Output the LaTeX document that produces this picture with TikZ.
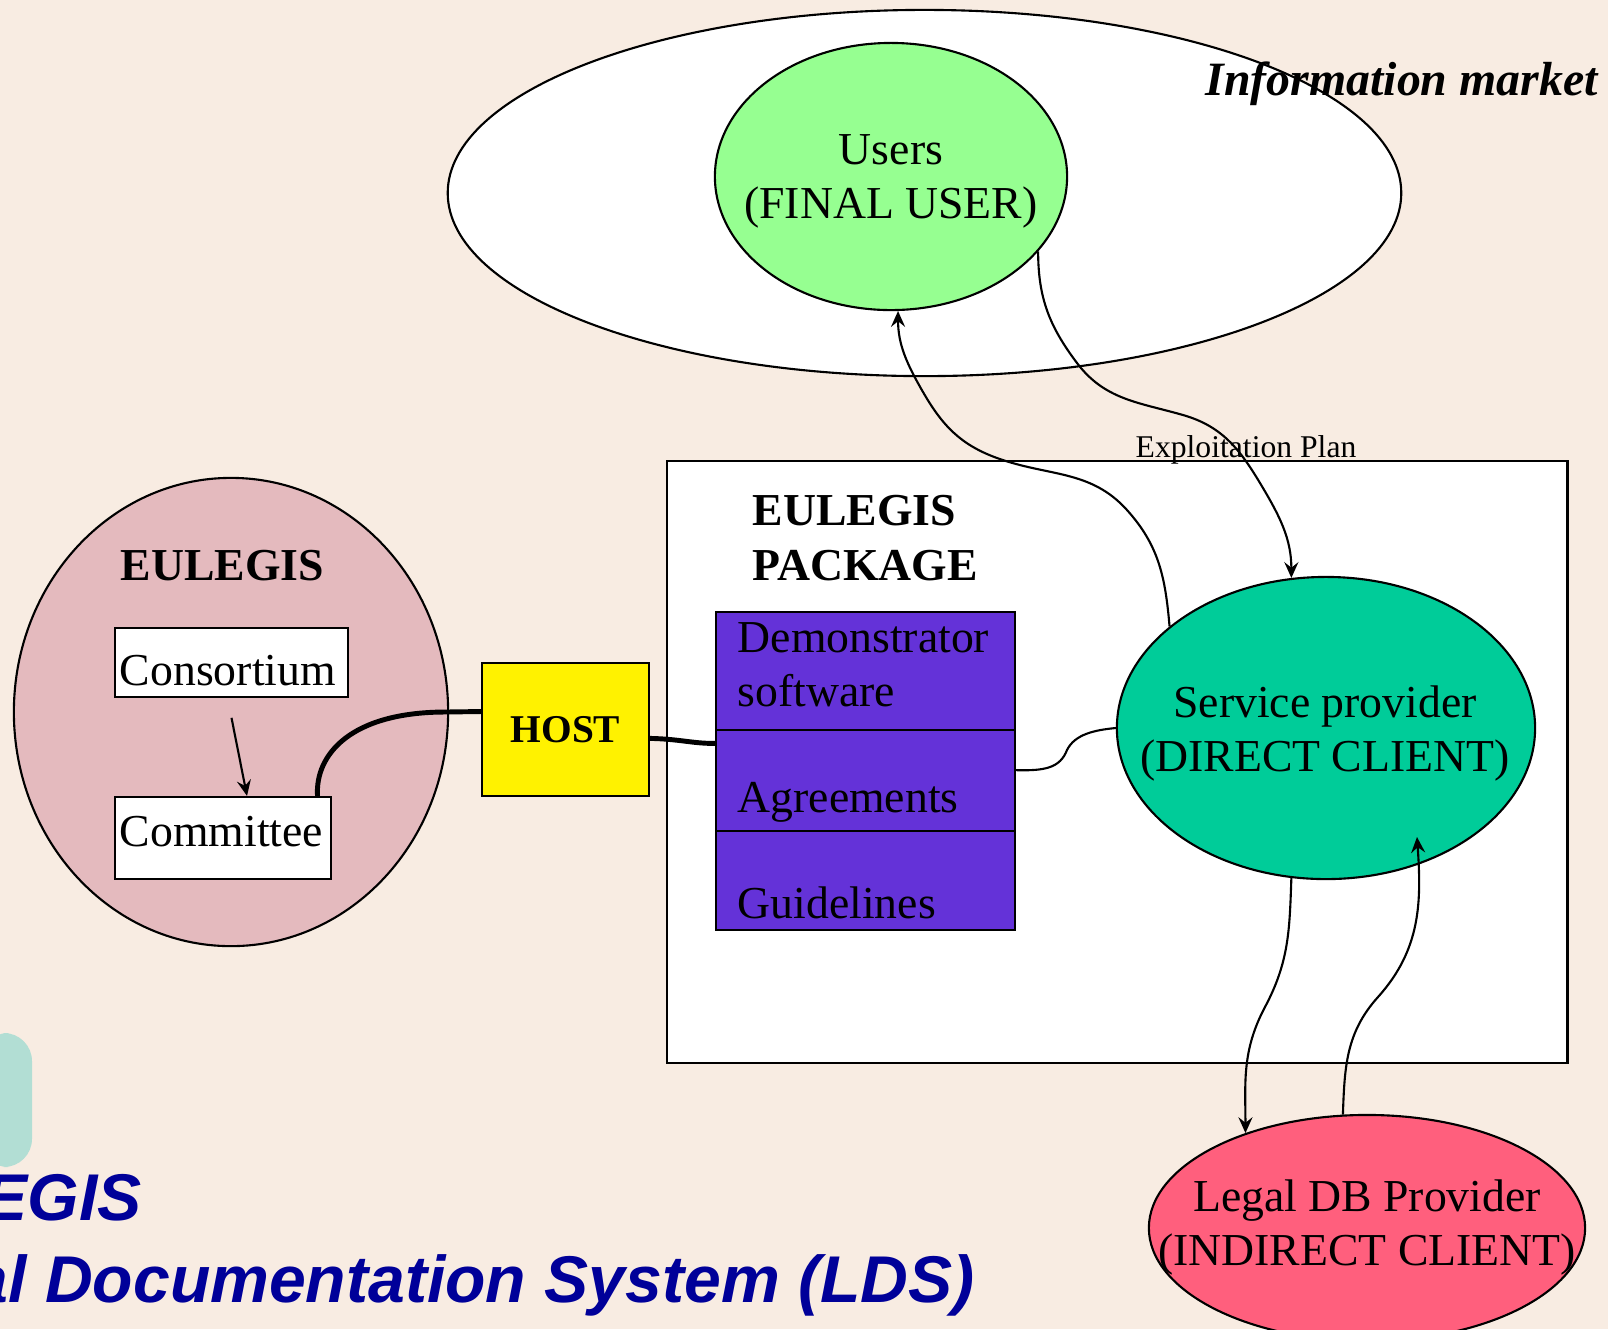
\documentclass[tikz,border=0pt]{standalone}
\usepackage{fontspec}
\setmainfont{Liberation Serif}
\newfontfamily\titlefont{Liberation Sans}
\usetikzlibrary{shapes.geometric,arrows.meta,positioning}

\definecolor{bgcream}{RGB}{248,236,226}
\definecolor{dustypink}{RGB}{228,186,190}
\definecolor{usergreen}{RGB}{150,255,145}
\definecolor{clientteal}{RGB}{0,204,153}
\definecolor{dbred}{RGB}{255,95,125}
\definecolor{pkgpurple}{RGB}{100,50,216}
\definecolor{titleblue}{RGB}{0,0,153}
\definecolor{fragteal}{RGB}{178,222,212}

\begin{document}
\begin{tikzpicture}[
   x=0.01cm, y=0.01cm,
   every node/.append style={align=center, font=\fontsize{13}{15.3}\selectfont},  % <-- 13pt labels
   bubble/.style={ellipse, draw, line width=0.6pt, inner sep=0pt},
   plainbox/.style={rectangle, draw, line width=0.6pt},
   txt/.style={inner sep=0pt},
   link/.style={line width=0.6pt, -{Stealth[length=4.5pt,width=4pt,inset=1.6pt]}},
   thickline/.style={line width=1.4pt}
]
\tikzset{stackbox/.style={plainbox, fill=pkgpurple, minimum width=2.99cm, inner sep=0pt, outer sep=0pt}}

% page
\useasboundingbox (0,0) rectangle (1608,-1329);
\fill[bgcream] (0,0) rectangle (1608,-1329);
\fill[fragteal, rounded corners=8pt] (-20,-1033) rectangle (32,-1167);

% information market
\node[bubble, fill=white, minimum width=9.53cm, minimum height=3.66cm] (market) at (924.5,-193) {};
\node[bubble, fill=usergreen, minimum width=3.52cm, minimum height=2.67cm] (users) at (891,-176.5) {};
\node[txt, anchor=base] (userstxt) at (891,-218) {Users\\(FINAL USER)};  % base = last line
\node[txt, anchor=base west, font=\fontsize{13.6}{16}\selectfont\bfseries\itshape] (markettxt)
   at (1205,-95) {Information market};

% eulegis side
\node[bubble, fill=dustypink, minimum width=4.34cm, minimum height=4.68cm] (eulegis) at (231,-712) {};
\node[txt, anchor=base west, font=\fontsize{13}{15.3}\selectfont\bfseries] (eulegistxt) at (120,-580) {EULEGIS};
\node[plainbox, fill=white, minimum width=2.33cm, minimum height=0.65cm, inner xsep=0.05cm,
      text width=2.23cm, align=left, text height=12.8pt, text depth=0pt] (consort) at (231.5,-662.5) {Consortium};
\node[plainbox, fill=white, minimum width=2.16cm, minimum height=0.82cm, inner xsep=0.05cm,
      text width=2.06cm, align=left, text height=9pt, text depth=4pt] (committee) at (223,-838) {Committee};
\node[plainbox, fill=yellow, minimum width=1.67cm, minimum height=1.33cm,
      font=\fontsize{11.2}{13}\selectfont\bfseries] (host) at (565.5,-729.5) {HOST};

% package
\node[plainbox, fill=white, line width=0.7pt, minimum width=9.00cm, minimum height=6.02cm] (package) at (1117,-762) {};
\node[txt, anchor=base west, align=left, font=\fontsize{13}{15.6}\selectfont\bfseries] (packagetxt)
   at (752,-580) {EULEGIS\\PACKAGE};
\node[stackbox, minimum height=1.18cm, anchor=north west] (demo) at (716,-612) {};
\node[stackbox, minimum height=1.01cm, below=0pt of demo] (agree) {};
\node[stackbox, minimum height=0.99cm, below=0pt of agree] (guide) {};
\node[txt, anchor=base west, align=left] (demotxt) at (737,-706) {Demonstrator\\software};
\node[txt, anchor=base west] (agreetxt) at (737,-812) {Agreements};
\node[txt, anchor=base west] (guidetxt) at (737,-918) {Guidelines};

% clients
\node[bubble, fill=clientteal, minimum width=4.18cm, minimum height=3.02cm] (service) at (1326,-728) {};
\node[txt, anchor=base] (servicetxt) at (1325,-771) {Service provider\\(DIRECT CLIENT)};
\node[bubble, fill=dbred, minimum width=4.36cm, minimum height=2.26cm] (legal) at (1367,-1228) {};
\node[txt, anchor=base] (legaltxt) at (1367,-1265) {Legal DB Provider\\(INDIRECT CLIENT)};
\node[txt, anchor=base west, font=\fontsize{9}{11}\selectfont] (plantxt) at (1135,-457) {Exploitation Plan};
\coordinate (backin) at ([shift={(91,-109)}]service.center);

% connectors
\draw[link] ([yshift=-0.2cm]consort.south) -- ([xshift=0.24cm]committee.north);
\draw[thickline] (committee.24) .. controls (315,-755) and (350,-712) .. (446,-712) -- (host.168);
\draw[thickline] (host.-6) .. controls (680,-739) and (695,-744) .. (agree.166);
\draw[line width=0.6pt] (agree.4) .. controls (1045,-771) and (1060,-768) .. (1067,-750)
   .. controls (1075,-734) and (1095,-730) .. (service.west);
\draw[link] (service.147) to[out=95,in=-48] (1127,-510) to[out=132,in=-20] (997,-458)
   to[out=160,in=-60] (923,-392) to[out=120,in=-90] (users.-87);
\draw[link] (users.-27) to[out=-90,in=127] (1077,-363) to[out=-53,in=164] (1183,-415)
   to[out=-16,in=121] (1260,-483) to[out=-59,in=90] (service.103);
\draw[link] (service.-103) to[out=-92,in=62] (1265,-1007) to[out=-118,in=90] (legal.142);
\draw[link] (legal.102) to[out=88,in=-132] (1378,-997) to[out=48,in=-86] (backin);

% slide title, cut at the left edge as in the slide
\node[txt, anchor=base west, text=titleblue, font=\titlefont\fontsize{18.8}{22}\selectfont\bfseries\itshape]
   (titleA) at (-17,-1220) {EGIS};
\node[txt, anchor=base west, text=titleblue, font=\titlefont\fontsize{18.8}{22}\selectfont\bfseries\itshape]
   (titleB) at (-29,-1302) {al Documentation System (LDS)};
\end{tikzpicture}
\end{document}
